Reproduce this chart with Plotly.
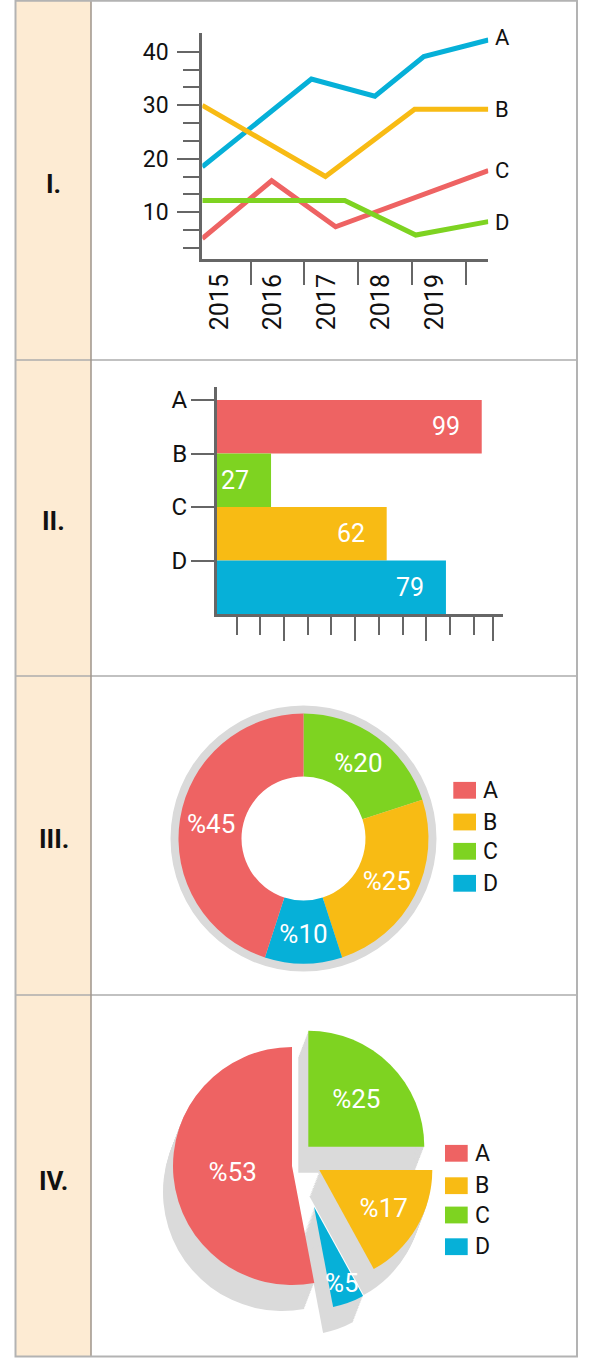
import math
import plotly.graph_objects as go

W, H = 590, 1358

# ---------------- data ----------------
categories = ["A", "B", "C", "D"]
years = [2015, 2016, 2017, 2018, 2019]

# Chart I - line series (x in year units, y values)
line_a_x = [2014.68, 2016.71, 2017.89, 2018.80, 2020.0]
line_a_y = [18.5, 34.9, 31.7, 39.1, 42.2]
line_b_x = [2014.68, 2016.97, 2018.63, 2020.0]
line_b_y = [30.0, 16.7, 29.25, 29.25]
line_c_x = [2014.68, 2015.97, 2017.16, 2020.0]
line_c_y = [5.1, 15.9, 7.3, 17.8]
line_d_x = [2014.68, 2017.33, 2018.65, 2020.0]
line_d_y = [12.2, 12.2, 5.75, 8.25]
y_major_ticks = [10, 20, 30, 40]
y_minor_ticks = [3.333, 6.667, 13.333, 16.667, 23.333, 26.667, 33.333, 36.667]

# Chart II - bars
bar_categories = ["A", "B", "C", "D"]
bar_labels = [99, 27, 62, 79]
bar_lengths = [111.7, 22.8, 71.6, 96.6]

# Chart III - donut (A, B, C, D)
donut_values = [45, 25, 20, 10]

# Chart IV - exploded pie (A, B, C, D)
pie_values = [53, 17, 25, 5]

# ---------------- styles ----------------
palette = {"A": "#EE6363", "B": "#F8BB14", "C": "#7ED321", "D": "#06B0D8"}
line_colors = {"A": "#06B0D8", "B": "#F8BB14", "C": "#EE6363", "D": "#7ED321"}
bar_colors = ["#EE6363", "#7ED321", "#F8BB14", "#06B0D8"]
AX = "#666666"
FONT = "Roboto"
slice_order = ["C", "B", "D", "A"]  # clockwise from 12 o'clock


def px(x):
    return x / W


def py(y):
    return 1 - y / H


def pie_domain(cx, cy, r):
    return dict(x=[(cx - r) / W, (cx + r) / W], y=[1 - (cy + r) / H, 1 - (cy - r) / H])


fig = go.Figure()
annotations = []
shapes = []

# ---------- Chart I ----------
series = [("A", line_a_x, line_a_y), ("B", line_b_x, line_b_y),
          ("C", line_c_x, line_c_y), ("D", line_d_x, line_d_y)]
for name, xs, ys in series:
    fig.add_trace(go.Scatter(x=xs, y=ys, mode="lines", xaxis="x", yaxis="y",
                             line=dict(color=line_colors[name], width=5),
                             showlegend=False, hoverinfo="skip"))

yshift_end = {"A": 3, "B": 0, "C": 0, "D": -1}
for name, xs, ys in series:
    annotations.append(dict(x=xs[-1], y=ys[-1], xref="x", yref="y", text=name,
                            showarrow=False, xanchor="left", xshift=5,
                            yshift=yshift_end[name],
                            font=dict(family=FONT, size=22, color="#111")))

# ---------- Chart II ----------
fig.add_trace(go.Bar(x=bar_lengths, y=list(range(len(bar_categories))), orientation="h",
                     xaxis="x2", yaxis="y2", width=1,
                     marker=dict(color=bar_colors, line=dict(width=0)),
                     showlegend=False, hoverinfo="skip"))
for i, (ln, lab) in enumerate(zip(bar_lengths, bar_labels)):
    annotations.append(dict(x=ln, y=i, xref="x2", yref="y2", text=str(lab),
                            showarrow=False, xanchor="right", xshift=-20,
                            font=dict(family=FONT, size=25, color="white")))

# ---------- Chart III ----------
order = [categories.index(c) for c in slice_order]
fig.add_trace(go.Pie(values=[1], labels=["ring"], marker=dict(colors=["#DADADA"]),
                     hole=0.5, sort=False, textinfo="none", showlegend=False,
                     hoverinfo="skip", domain=pie_domain(303.5, 838.5, 133)))
fig.add_trace(go.Pie(values=[donut_values[i] for i in order], labels=slice_order,
                     marker=dict(colors=[palette[c] for c in slice_order]),
                     hole=0.496, sort=False, direction="clockwise", rotation=0,
                     text=["%" + str(donut_values[i]) for i in order], textinfo="text",
                     textposition="inside", insidetextorientation="horizontal",
                     textfont=dict(family=FONT, size=26, color="white"),
                     showlegend=False, hoverinfo="skip",
                     domain=pie_domain(303.5, 838.5, 125)))

# ---------- Chart IV ----------
slice_geom = {"A": (292, 1166, 119), "C": (308.3, 1146.7, 116),
              "B": (319.3, 1170, 113), "D": (314, 1206.7, 102)}
shadow_dx, shadow_dy = -10, 26
pvals = [pie_values[i] for i in order]
total = float(sum(pvals))
n_steps = 16
for s in range(1, n_steps + 1):
    t = s / n_steps
    for k in slice_order:
        cx, cy, r = slice_geom[k]
        fig.add_trace(go.Pie(values=pvals, labels=slice_order,
                             marker=dict(colors=["#DADADA" if c == k else "rgba(0,0,0,0)" for c in slice_order]),
                             sort=False, direction="clockwise", rotation=0, textinfo="none",
                             showlegend=False, hoverinfo="skip",
                             domain=pie_domain(cx + t * shadow_dx, cy + t * shadow_dy, r)))

small_slices = {"D"}
cum = 0.0
for k, v in zip(slice_order, pvals):
    cx, cy, r = slice_geom[k]
    txt = "%" + str(v)
    inside = k not in small_slices
    fig.add_trace(go.Pie(values=pvals, labels=slice_order,
                         marker=dict(colors=[palette[c] if c == k else "rgba(0,0,0,0)" for c in slice_order]),
                         sort=False, direction="clockwise", rotation=0,
                         text=[txt if (c == k and inside) else "" for c in slice_order],
                         textinfo="text", textposition="inside", insidetextorientation="horizontal",
                         textfont=dict(family=FONT, size=26, color="white"),
                         showlegend=False, hoverinfo="skip",
                         domain=pie_domain(cx, cy, r)))
    if not inside:
        mid = 2 * math.pi * (cum + v / 2) / total
        tx = cx + 0.8 * r * math.sin(mid)
        ty = cy - 0.8 * r * math.cos(mid)
        annotations.append(dict(x=px(tx), y=py(ty), xref="paper", yref="paper", text=txt,
                                showarrow=False, xanchor="center", yanchor="middle",
                                font=dict(family=FONT, size=26, color="white")))
    cum += v

# ---------- table ----------
shapes.append(dict(type="rect", xref="paper", yref="paper", x0=px(15), x1=px(91), y0=py(1357), y1=py(0),
                   fillcolor="#FDEBD3", line=dict(width=0), layer="below"))
for yy in [360, 676, 995]:
    shapes.append(dict(type="line", xref="paper", yref="paper", x0=px(15), x1=px(577),
                       y0=py(yy), y1=py(yy), line=dict(color="#ADADAD", width=1.5)))
shapes.append(dict(type="line", xref="paper", yref="paper", x0=px(91), x1=px(91),
                   y0=py(0), y1=py(1357), line=dict(color="#9E958B", width=1.5)))
shapes.append(dict(type="rect", xref="paper", yref="paper", x0=px(15.5), x1=px(577),
                   y0=py(1356.5), y1=py(0.8), line=dict(color="#B3B3B3", width=2)))

row_labels = [("I.", 184), ("II.", 521), ("III.", 839), ("IV.", 1181)]
for txt, yy in row_labels:
    annotations.append(dict(x=px(53.5), y=py(yy), xref="paper", yref="paper", text=txt,
                            showarrow=False, xanchor="center", yanchor="middle",
                            font=dict(family=FONT, size=26, color="#111", weight="bold")))


# ---------- legends ----------
def add_legend(x_sq, centers, x_txt):
    for c, yc in zip(categories, centers):
        shapes.append(dict(type="rect", xref="paper", yref="paper",
                           x0=px(x_sq), x1=px(x_sq + 22.7), y0=py(yc + 8.4), y1=py(yc - 8.4),
                           fillcolor=palette[c], line=dict(width=0)))
        annotations.append(dict(x=px(x_txt), y=py(yc), xref="paper", yref="paper", text=c,
                                showarrow=False, xanchor="left", yanchor="middle",
                                font=dict(family=FONT, size=23, color="#111")))


add_legend(453.3, [790.3, 822, 851.3, 883.3], 481)
add_legend(445, [1153.3, 1185.7, 1215, 1246.7], 473)

fig.update_layout(
    width=W, height=H, margin=dict(l=0, r=0, t=0, b=0),
    paper_bgcolor="white", plot_bgcolor="rgba(0,0,0,0)",
    showlegend=False, shapes=shapes, annotations=annotations,
    xaxis=dict(domain=[px(202.3), px(488.3)], range=[2014.68, 2020.0], anchor="y",
               showgrid=False, zeroline=False, showline=True, linecolor=AX, linewidth=3,
               tickmode="array", tickvals=years, ticktext=[str(y) for y in years],
               ticks="", tickangle=-90, ticklabelstandoff=2,
               tickfont=dict(family=FONT, size=25, color="#111"),
               minor=dict(tickmode="array", tickvals=[2015.58, 2016.58, 2017.58, 2018.58, 2019.58],
                          ticks="outside", ticklen=23, tickwidth=2, tickcolor=AX, showgrid=False)),
    yaxis=dict(domain=[py(259), py(33.3)], range=[1.27, 43.46], anchor="x",
               showgrid=False, zeroline=False, showline=True, linecolor=AX, linewidth=3,
               tickmode="array", tickvals=y_major_ticks, ticks="outside", ticklen=22,
               tickwidth=2, tickcolor=AX, ticklabelstandoff=4,
               tickfont=dict(family=FONT, size=23, color="#111"),
               minor=dict(tickmode="array", tickvals=y_minor_ticks, ticks="outside", ticklen=16,
                          tickwidth=2, tickcolor=AX, showgrid=False)),
    xaxis2=dict(domain=[px(217), px(503.3)], range=[0, 120.8], anchor="y2",
                showgrid=False, zeroline=False, showline=True, linecolor=AX, linewidth=3,
                showticklabels=False, tickmode="array", tickvals=[28.3, 58.3, 88.3, 116.6],
                ticks="outside", ticklen=24, tickwidth=2, tickcolor=AX,
                minor=dict(tickmode="array", tickvals=[8.3, 18.3, 38.3, 48.3, 68.3, 78.3, 98.3, 108.3],
                           ticks="outside", ticklen=18, tickwidth=2, tickcolor=AX, showgrid=False)),
    yaxis2=dict(domain=[py(614), py(387)], range=[3.5, -0.743], anchor="x2",
                showgrid=False, zeroline=False, showline=True, linecolor=AX, linewidth=3,
                tickmode="array", tickvals=[-0.5, 0.5, 1.5, 2.5], ticktext=bar_categories,
                ticks="outside", ticklen=23, tickwidth=2, tickcolor=AX, ticklabelstandoff=-1,
                tickfont=dict(family=FONT, size=24, color="#111")),
)

fig.write_html("out.html", config={"displayModeBar": False},
               post_script="document.body.style.margin='0';")
